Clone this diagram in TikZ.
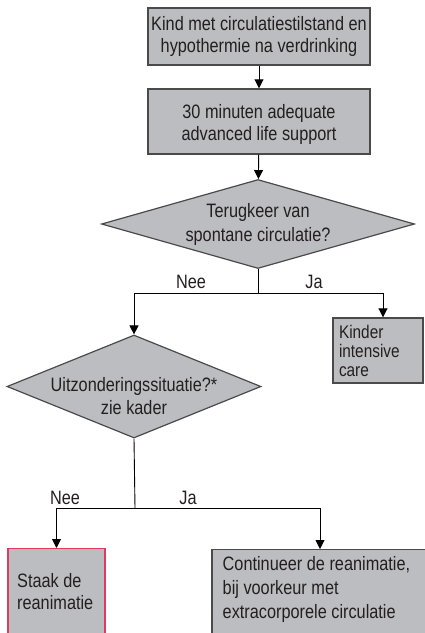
\documentclass[tikz,border=0pt]{standalone}
\usepackage{fontspec}
\setmainfont{Liberation Sans}[FakeStretch=0.84]
\usetikzlibrary{shapes.geometric,arrows.meta}
\definecolor{boxgray}{HTML}{BCBDC0}
\definecolor{edgegray}{HTML}{4A4A4A}
\definecolor{stopred}{HTML}{E03A5E}
\definecolor{txt}{HTML}{231F20}
\begin{document}
\begin{tikzpicture}[x=1pt,y=-1pt,
  every node/.style={font=\fontsize{19.4}{22}\selectfont, text=txt},
  boxnode/.style={draw=edgegray, line width=1.4pt, fill=boxgray, rectangle, inner sep=0pt, align=center},
  decision/.style={draw=edgegray, line width=1.2pt, fill=boxgray, diamond, inner sep=0pt},
  arr/.style={draw=black, line width=0.9pt, -{Triangle[length=9pt,width=9pt]}},
  lin/.style={draw=black, line width=0.9pt},
  lbl/.style={inner sep=0pt}]
\useasboundingbox (0,0) rectangle (425,633);
\clip (0,0) rectangle (425,633);
% top boxes
\node[boxnode, minimum width=222pt, minimum height=57pt] (b1) at (259,36.5)
  {Kind met circulatiestilstand en\\hypothermie na verdrinking};
\node[boxnode, minimum width=222pt, minimum height=65pt] (b2) at (259,121.5) {};
\node[anchor=north, align=center, inner sep=0pt] (b2t) at (259,104.5)
  {30 minuten adequate\\advanced life support};
% decision 1
\node[decision, minimum width=313pt, minimum height=89pt] (d1) at (258,224) {};
\node[anchor=north, align=center, inner sep=0pt, font=\fontsize{19.4}{23.5}\selectfont] (d1t) at (258,203.5)
  {Terugkeer van\\spontane circulatie?};
\coordinate (j1) at (258,293);
% kinder intensive care
\node[boxnode, minimum width=90pt, minimum height=65pt, text width=78pt, align=left,
  font=\fontsize{18.3}{19}\selectfont] (kic) at (378,350.5)
  {Kinder\\intensive\\care};
% decision 2
\node[decision, minimum width=254pt, minimum height=103pt] (d2) at (134,386.5) {};
\node[anchor=north, align=center, inner sep=0pt, font=\fontsize{19.4}{23}\selectfont] (d2t) at (134,377.5)
  {Uitzonderingssituatie?*\\zie kader};
\coordinate (j2) at (135,508);
% bottom boxes
\node[boxnode, draw=stopred, line width=1.2pt, minimum width=97pt, minimum height=110pt, anchor=north] (stop) at (56.5,548) {};
\node[anchor=north west, align=left, inner sep=0pt] (stopt) at (17,573.5)
  {Staak de\\reanimatie};
\node[boxnode, minimum width=216pt, minimum height=110pt, anchor=north] (cont) at (320,549) {};
\node[anchor=north west, align=left, inner sep=0pt, font=\fontsize{19.4}{24}\selectfont] (contt) at (222.5,556)
  {Continueer de reanimatie,\\bij voorkeur met\\extracorporele circulatie};
% connectors
\draw[arr] (b1) -- (b2);
\draw[arr] (b2) -- (d1);
\draw[lin] (d1.south) -- (j1);
\draw[arr] (j1) -| (d2.north);
\draw[arr] (j1) -| ([xshift=5pt]kic.north);
\draw[lin] (d2.south) -- (j2);
\draw[arr] (j2) -| (stop.north);
\draw[arr] (j2) -| (cont.north);
% labels
\node[lbl] (l1) at (191,282) {Nee};
\node[lbl] (l2) at (314,282) {Ja};
\node[lbl] (l3) at (65,498) {Nee};
\node[lbl] (l4) at (188,498) {Ja};
\end{tikzpicture}
\end{document}
